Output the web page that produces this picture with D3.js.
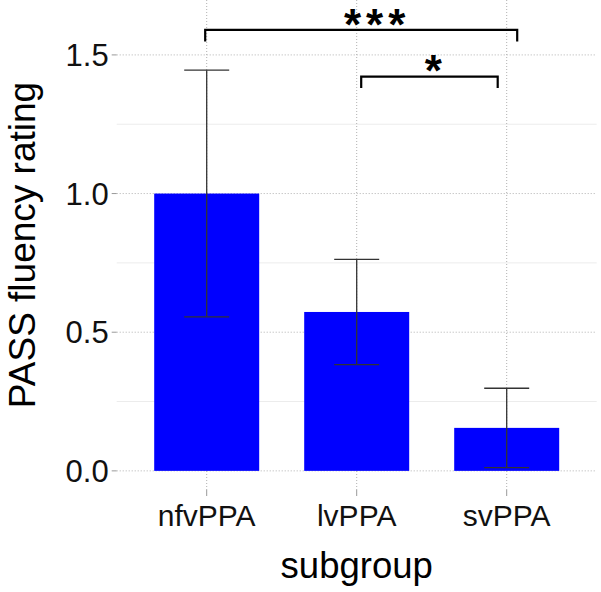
<!DOCTYPE html>
<html>
<head>
<meta charset="utf-8">
<script src="https://cdn.jsdelivr.net/npm/d3@7"></script>
<style>
  html, body { margin: 0; padding: 0; background: #fff; }
  svg { display: block; }
  text { font-family: "Liberation Sans", Arial, sans-serif; }
</style>
</head>
<body>
<svg id="chart" width="601" height="592"></svg>
<script>
// ---- data ----
const categories = ["nfvPPA", "lvPPA", "svPPA"];
const means = [1.00, 0.573, 0.155];
const errors = [0.445, 0.19, 0.143];
const yTicks = [0.0, 0.5, 1.0, 1.5];
const yMinorTicks = [0.25, 0.75, 1.25];
const yLimits = [-0.069, 1.698];
// significance brackets (positions in category units, 1 = first category)
const sigFrom = [0.99, 2.03];
const sigTo = [3.07, 2.94];
const sigBarY = [1.59, 1.422];
const sigTipY = [1.548, 1.381];
const sigLabels = ["***", "*"];
const sigLabelX = [2.12, 2.51];
const sigLabelY = [1.626, 1.458];
const xTitle = "subgroup";
const yTitle = "PASS fluency rating";

// ---- layout ----
const W = 601, H = 592;
const panel = { left: 116.7, right: 596.7, top: 0, bottom: 490 };
const svg = d3.select("#chart");

const x = d3.scaleBand()
  .domain(categories)
  .range([panel.left, panel.right])
  .paddingInner(0.3)
  .paddingOuter(0.25);
const step = x.step();
const cx = c => x(c) + x.bandwidth() / 2;
const pos = p => cx(categories[0]) + (p - 1) * step;

const y = d3.scaleLinear().domain(yLimits).range([panel.bottom, panel.top]);

// minor grid
svg.append("g").selectAll("line").data(yMinorTicks).join("line")
  .attr("x1", panel.left).attr("x2", panel.right)
  .attr("y1", d => y(d)).attr("y2", d => y(d))
  .attr("stroke", "#ececec").attr("stroke-width", 1);

// major grid (dotted)
svg.append("g").selectAll("line").data(yTicks).join("line")
  .attr("x1", panel.left).attr("x2", panel.right)
  .attr("y1", d => y(d)).attr("y2", d => y(d))
  .attr("stroke", "#b0b0b0").attr("stroke-width", 1)
  .attr("stroke-dasharray", "1,2");
svg.append("g").selectAll("line").data(categories).join("line")
  .attr("x1", d => cx(d)).attr("x2", d => cx(d))
  .attr("y1", panel.top).attr("y2", panel.bottom)
  .attr("stroke", "#b0b0b0").attr("stroke-width", 1)
  .attr("stroke-dasharray", "1,2");

// bars
svg.append("g").selectAll("rect").data(categories).join("rect")
  .attr("x", d => x(d))
  .attr("width", x.bandwidth())
  .attr("y", (d, i) => y(means[i]))
  .attr("height", (d, i) => y(0) - y(means[i]))
  .attr("fill", "#0000ff");

// error bars
const whisk = 0.15 * step;
const eb = svg.append("g").attr("stroke", "#333").attr("stroke-width", 1.3).attr("fill", "none");
categories.forEach((c, i) => {
  const lo = y(means[i] - errors[i]), hi = y(means[i] + errors[i]);
  eb.append("line").attr("x1", cx(c)).attr("x2", cx(c)).attr("y1", lo).attr("y2", hi);
  eb.append("line").attr("x1", cx(c) - whisk).attr("x2", cx(c) + whisk).attr("y1", lo).attr("y2", lo);
  eb.append("line").attr("x1", cx(c) - whisk).attr("x2", cx(c) + whisk).attr("y1", hi).attr("y2", hi);
});

// significance brackets
const sg = svg.append("g");
sigLabels.forEach((lab, i) => {
  const x1 = pos(sigFrom[i]), x2 = pos(sigTo[i]);
  sg.append("path")
    .attr("d", `M${x1},${y(sigTipY[i])}V${y(sigBarY[i])}H${x2}V${y(sigTipY[i])}`)
    .attr("fill", "none").attr("stroke", "#000").attr("stroke-width", 2.2);
  const fs = 44;
  const ls = lab.length > 1 ? 5 : 0;
  sg.append("text")
    .attr("x", pos(sigLabelX[i]) + ls / 2)
    .attr("y", y(sigLabelY[i]) + 0.45 * fs)
    .attr("text-anchor", "middle")
    .attr("font-size", fs)
    .attr("font-weight", "bold")
    .attr("letter-spacing", ls)
    .attr("fill", "#000")
    .text(lab);
});

// axes ticks
svg.append("g").selectAll("line").data(yTicks).join("line")
  .attr("x1", panel.left - 5).attr("x2", panel.left)
  .attr("y1", d => y(d)).attr("y2", d => y(d))
  .attr("stroke", "#999").attr("stroke-width", 1);
svg.append("g").selectAll("line").data(categories).join("line")
  .attr("x1", d => cx(d)).attr("x2", d => cx(d))
  .attr("y1", panel.bottom).attr("y2", panel.bottom + 6)
  .attr("stroke", "#999").attr("stroke-width", 1);

// tick labels
svg.append("g").selectAll("text").data(yTicks).join("text")
  .attr("x", panel.left - 8)
  .attr("y", d => y(d))
  .attr("dy", "0.36em")
  .attr("text-anchor", "end")
  .attr("font-size", 31)
  .attr("fill", "#111")
  .text(d => d.toFixed(1));
svg.append("g").selectAll("text").data(categories).join("text")
  .attr("x", d => cx(d))
  .attr("y", 526)
  .attr("text-anchor", "middle")
  .attr("font-size", 30)
  .attr("fill", "#111")
  .text(d => d);

// titles
svg.append("text")
  .attr("x", (panel.left + panel.right) / 2)
  .attr("y", 578)
  .attr("text-anchor", "middle")
  .attr("font-size", 36.5)
  .attr("fill", "#000")
  .text(xTitle);
svg.append("text")
  .attr("transform", `translate(35,${(panel.top + panel.bottom) / 2}) rotate(-90)`)
  .attr("text-anchor", "middle")
  .attr("font-size", 37)
  .attr("fill", "#000")
  .text(yTitle);
</script>
</body>
</html>
